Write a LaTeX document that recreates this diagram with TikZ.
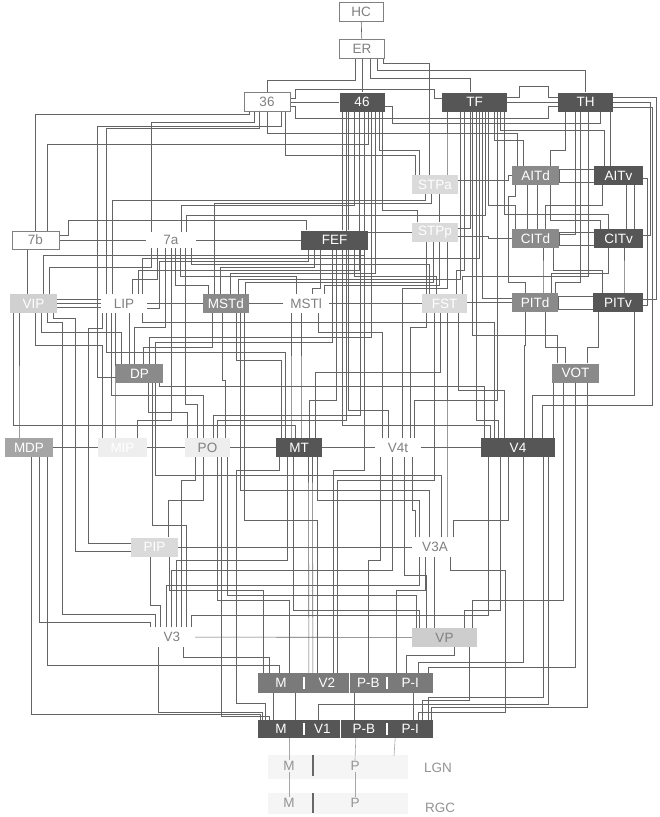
\documentclass[tikz,border=0pt]{standalone}
\usepackage{fontspec}
\setmainfont{Liberation Sans}
\usetikzlibrary{positioning,backgrounds}
\definecolor{areadark}{RGB}{86,86,86}
\definecolor{areamid}{RGB}{138,138,138}
\definecolor{arealight}{RGB}{218,218,218}
\definecolor{areapale}{RGB}{238,238,238}
\definecolor{smudge}{RGB}{245,245,245}
\definecolor{vipgray}{RGB}{208,208,208}
\definecolor{mdpgray}{RGB}{165,165,165}
\definecolor{vpgray}{RGB}{205,205,205}
\definecolor{v2gray}{RGB}{122,122,122}
\definecolor{labelgray}{RGB}{128,128,128}
\definecolor{wiregray}{RGB}{100,100,100}

\begin{document}
\begin{tikzpicture}[x=1pt, y=-1pt,
    area/.style={inner sep=0pt, minimum height=19pt, font=\fontsize{13.5}{15}\selectfont},
    darkbox/.style={area, fill=areadark, text=white},
    midbox/.style={area, fill=areamid, text=white},
    lightbox/.style={area, fill=arealight, text=white},
    openbox/.style={area, draw=labelgray, line width=0.6pt, fill=white, text=labelgray},
    plainbox/.style={area, fill=white, text=labelgray},
    cellbox/.style={area, minimum height=20pt, text=white},
    tag/.style={inner sep=1pt, text=labelgray!85, font=\fontsize{13.5}{15}\selectfont},
    wire/.style={draw=wiregray, line width=0.6pt},
    faint/.style={draw=labelgray!70, line width=0.6pt},
    divider/.style={draw=white, line width=1.6pt},
    bar/.style={draw=areadark!90, line width=1.8pt}]
    \useasboundingbox (0,0) rectangle (660,817);

    % Top of the hierarchy
    \node[openbox, minimum width=44pt] (hc) at (361,12) {HC};
    \node[openbox, minimum width=45pt] (er) at (362,48.5) {ER};
    \node[openbox, minimum width=46pt] (a36) at (267,102) {36};
    \node[darkbox, minimum width=45pt] (a46) at (362,102) {46};
    \node[darkbox, minimum width=65pt] (tf) at (474.5,102) {TF};
    \node[darkbox, minimum width=55pt] (th) at (585.5,102) {TH};

    % Temporal and frontal areas
    \node[lightbox, minimum width=46pt] (stpa) at (435,184.5) {STPa};
    \node[midbox, minimum width=47pt] (aitd) at (535.5,175.5) {AITd};
    \node[darkbox, minimum width=49pt] (aitv) at (618.5,175.5) {AITv};
    \node[openbox, minimum width=47pt, minimum height=18pt] (a7b) at (35.5,240) {7b};
    \node[plainbox, minimum width=50pt, minimum height=16pt] (a7a) at (171,240) {7a};
    \node[darkbox, minimum width=67pt] (fef) at (334.5,240) {FEF};
    \node[lightbox, minimum width=46pt] (stpp) at (435,232) {STPp};
    \node[midbox, minimum width=47pt] (citd) at (535.5,238.5) {CITd};
    \node[darkbox, minimum width=49pt] (citv) at (618.5,238.5) {CITv};

    % Parietal row
    \node[lightbox, fill=vipgray, minimum width=47pt] (vip) at (33.5,303.5) {VIP};
    \node[plainbox, minimum width=46pt] (lip) at (124,303.5) {LIP};
    \node[midbox, minimum width=46pt] (mstd) at (226,303.5) {MSTd};
    \node[plainbox, minimum width=46pt] (mstl) at (306,303.5) {MSTl};
    \node[lightbox, minimum width=45pt] (fst) at (444.5,303.5) {FST};
    \node[midbox, minimum width=46pt] (pitd) at (535,302.5) {PITd};
    \node[darkbox, minimum width=50pt] (pitv) at (618,302.5) {PITv};
    \node[midbox, minimum width=47pt] (dp) at (139.5,373.5) {DP};
    \node[midbox, minimum width=47pt] (vot) at (575.5,373) {VOT};

    % Middle row
    \node[midbox, fill=mdpgray, minimum width=48pt] (mdp) at (29,447.5) {MDP};
    \node[lightbox, fill=areapale, minimum width=49pt] (mip) at (122.5,447.5) {MIP};
    \node[lightbox, fill=areapale, text=labelgray, minimum width=45pt] (po) at (207.5,447.5) {PO};
    \node[darkbox, minimum width=46pt] (mt) at (299,447.5) {MT};
    \node[plainbox, minimum width=46pt] (v4t) at (398,447.5) {V4t};
    \node[darkbox, minimum width=74pt] (v4) at (518,447.5) {V4};

    % Lower areas
    \node[lightbox, minimum width=47pt] (pip) at (154.5,547) {PIP};
    \node[plainbox, minimum width=46pt] (v3a) at (435,547) {V3A};
    \node[plainbox, minimum width=46pt] (v3) at (172,637) {V3};
    \node[lightbox, fill=vpgray, text=labelgray, minimum width=65pt] (vp) at (444.5,637.5) {VP};

    % V2 and V1 compartments
    \node[cellbox, fill=v2gray, minimum width=46pt] (v2m) at (281,683) {M};
    \node[cellbox, fill=v2gray, minimum width=45pt, right=0pt of v2m] (v2c) {V2};
    \node[cellbox, fill=v2gray, minimum width=37pt, right=0pt of v2c] (v2pb) {P-B};
    \node[cellbox, fill=v2gray, minimum width=46pt, right=0pt of v2pb] (v2pi) {P-I};
    \node[cellbox, fill=areadark, minimum height=18pt, minimum width=46pt] (v1m) at (281,729) {M};
    \node[cellbox, fill=areadark, minimum height=18pt, minimum width=36pt, right=0pt of v1m] (v1c) {V1};
    \node[cellbox, fill=areadark, minimum height=18pt, minimum width=46pt, right=0pt of v1c] (v1pb) {P-B};
    \node[cellbox, fill=areadark, minimum height=18pt, minimum width=46pt, right=0pt of v1pb] (v1pi) {P-I};
    \draw[divider] ([yshift=-4]v2m.north east) -- ([yshift=4]v2m.south east);
    \draw[divider] ([yshift=-4]v2c.north east) -- ([yshift=4]v2c.south east);
    \draw[divider] ([yshift=-4]v2pb.north east) -- ([yshift=4]v2pb.south east);
    \draw[divider] ([yshift=-3]v1m.north east) -- ([yshift=3]v1m.south east);
    \draw[divider] ([yshift=-3]v1c.north east) -- ([yshift=3]v1c.south east);
    \draw[divider] ([yshift=-3]v1pb.north east) -- ([yshift=3]v1pb.south east);

    % LGN and RGC
    \fill[smudge] (268,755) rectangle (408,779);
    \fill[smudge] (268,793) rectangle (408,814);
    \node[tag] (lgnm) at (289,766) {M};
    \node[tag] (lgnp) at (355,766) {P};
    \node[tag] (lgn) at (438,768) {LGN};
    \node[tag] (rgcm) at (289,803) {M};
    \node[tag] (rgcp) at (355,803) {P};
    \node[tag] (rgc) at (440,808) {RGC};
    \coordinate (piend) at (394,756);
    \draw[bar] (313,755) -- (313,776);
    \draw[bar] (313,793) -- (313,813);
    \draw[faint] ([xshift=8]v1m.south) -- (lgnm.north);
    \draw[faint] (lgnm) -- (rgcm);
    \draw[faint] ([xshift=-8]v1pb.south) -- (lgnp.north);
    \draw[faint] (lgnp) -- (rgcp);
    \draw[faint] ([xshift=-15]v1pi.south) -- (piend);

    \begin{scope}[on background layer]
    % HC, ER and the top row
    \draw[wire] (hc) -- (er);
    \draw[wire] (er) -- (a46);
    \draw[wire] (a36.north) -- ++(0,-12) -| ([xshift=-6.5]er.south);
    \draw[wire] ([xshift=-4]tf.north) -- ++(0,-14) -| ([xshift=8]er.south);
    \draw[wire] (th.north) -- ++(0,-22) -| ([xshift=15]er.south);
    \draw[wire] ([xshift=-6]stpa.north) -- ++(0,-112) -| ([xshift=21]er.south);
    \draw[wire] (a36) -- (a46);
    \draw[wire] ([yshift=4]a36.east) -- ++(5,0) |- (434,89) |- ([yshift=4]tf.west);
    \draw[wire] ([yshift=-4]a36.east) -- ++(5,0) |- (548,118) |- ([yshift=-4]th.west);
    \draw[wire] ([yshift=-4]a46.east) -- ++(8,0) |- (600,123) -- ([xshift=14.5]th.south);
    \draw[wire] (tf) -- (th);
    \draw[wire] ([yshift=5]tf.east) -- ++(12,0) |- (548,86) |- ([yshift=5]th.west);

    % into 36
    \draw[wire] (a7b.north) -- ++(0,-116) -| ([xshift=-18]a36.south);
    \draw[wire] ([xshift=-20]a7a.north) -- ++(0,-110) -| ([xshift=-13]a36.south);
    \draw[wire] ([xshift=-18]lip.north) -- ++(0,-166) -| ([xshift=-8]a36.south);
    \draw[wire] ([xshift=-18]aitd.north) -- ++(0,-33) -| (a36.south);
    \draw[wire] ([yshift=-4]dp.west) -- (97,377.5) |- ([xshift=14,yshift=-14]a36.south) -- ([xshift=14]a36.south);
    \draw[wire] ([xshift=-20]stpa.north) -- ++(0,-20) -| ([xshift=18]a36.south);

    % into 46
    \draw[wire] ([xshift=8]fef.north) -- ++(0,-60) -| ([xshift=-19.5]a46.south);
    \draw[wire] ([xshift=14]fef.north) -- ++(0,-60) -| ([xshift=-13.5]a46.south);
    \draw[wire] ([xshift=10]a7a.north) -- ++(0,-27) -| ([xshift=-8]a46.south);
    \draw[wire] ([xshift=14]lip.north) -- ++(0,-24) -| ([xshift=-3]a46.south);
    \draw[wire] ([xshift=10]vip.north) -- ++(0,-39) -| ([xshift=2]a46.south);
    \draw[wire] ([xshift=10]dp.north) -- ++(0,-27) -| ([xshift=9]a46.south);
    \draw[wire] ([xshift=4]mstd.north) -- ++(0,-21) -| ([xshift=13]a46.south);
    \draw[wire] ([xshift=-16]stpa.north) -- ++(0,-25) -| ([xshift=17]a46.south);
    \draw[wire] ([xshift=-18]stpp.north) -- ++(0,-12) -| ([xshift=20]a46.south);
    \draw[wire] ([xshift=10]po.north) -- ++(0,-18) -| ([xshift=-16]a46.south);
    \draw[wire] ([xshift=12]a7b.north) -- ++(0,-86) -| ([xshift=6.5]a46.south);

    % into TF
    \draw[wire] ([xshift=12]stpa.north) -- ++(0,-20) -| ([xshift=-27.5]tf.south);
    \draw[wire] ([yshift=4]stpp.east) -| ([xshift=-4]tf.south);
    \draw[wire] ([xshift=-12]aitd.north) -- ++(0,-26) -| ([xshift=20]tf.south);
    \draw[wire] ([xshift=-14]aitv.north) -- ++(0,-36) -| ([xshift=26]tf.south);
    \draw[wire] ([xshift=-20]citd.north) -- ++(0,-24) -| ([xshift=14]tf.south);
    \draw[wire] ([xshift=-10]citv.north) -- ++(0,-15) -| ([xshift=30]tf.south);
    \draw[wire] ([yshift=4]pitd.west) -| ([xshift=8]tf.south);
    \draw[wire] ([xshift=-20]v4.north) -- ++(0,-18) -| ([xshift=2]tf.south);
    \draw[wire] ([xshift=-18]vot.north) -- ++(0,-28) -| ([xshift=-2]tf.south);
    \draw[wire] ([xshift=12]fst.north) -- ++(0,-24) -| ([xshift=-10]tf.south);
    \draw[wire] ([xshift=12]mstd.north) -- ++(0,-15) -| ([xshift=-14]tf.south);
    \draw[wire] ([xshift=15]a7a.north) -- ++(0,-17) -| ([xshift=11]tf.south);
    \draw[wire] ([xshift=18]lip.north) -- ++(0,-36) -| ([xshift=5]tf.south);
    \draw[wire] ([xshift=16]v4t.north) -- ++(0,-38) -| ([xshift=23]tf.south);

    % into TH
    \draw[wire] ([xshift=15]aitd.north) -- ++(0,-16) -| ([xshift=-20]th.south);
    \draw[wire] ([xshift=-8]aitv.north) -- ++(0,-26) -| ([xshift=25]th.south);
    \draw[wire] ([yshift=4]citd.east) -| ([xshift=-10.5]th.south);
    \draw[wire] ([yshift=3]citv.east) -- ++(7,0) |- (th.east);
    \draw[wire] ([yshift=3]pitv.east) -- ++(13,0) |- ([yshift=5]th.east);
    \draw[wire] ([xshift=20]pitd.north) -- ++(0,-11) -| ([xshift=-5]th.south);
    \draw[wire] ([xshift=24]v4.north) |- (652,405) |- ([yshift=-5]th.east);
    \draw[wire] ([xshift=18]fst.north) -- ++(0,-18) -| ([xshift=3]th.south);
    \draw[wire] ([yshift=-3]pitv.east) -- ++(4,0) |- ([yshift=-3]aitv.east);

    % inferotemporal links
    \draw[wire] ([xshift=-8]citd.north) -- ([xshift=-8]aitd.south);
    \draw[wire] ([xshift=2]citd.north) -- ([xshift=2]aitd.south);
    \draw[wire] ([xshift=8]citv.north) -- ([xshift=8]aitv.south);
    \draw[wire] ([xshift=16]citv.north) -- ([xshift=16]aitv.south);
    \draw[wire] ([xshift=10]citd.north) -- ++(0,-24) -| ([xshift=-16]aitv.south);
    \draw[wire] ([xshift=-18]citv.north) -- ++(0,-9) -| ([xshift=15]aitd.south);
    \draw[wire] ([xshift=-10]pitd.north) |- (508,282) |- ([xshift=-20,yshift=-11]aitd.south) -- ([xshift=-20]aitd.south);
    \draw[wire] ([xshift=8]pitd.north) -- ++(0,-20) -| ([xshift=7.5]citd.south);
    \draw[wire] ([xshift=6]pitv.north) -- ++(0,-20) -| ([xshift=5.5]citv.south);
    \draw[wire] ([xshift=16]pitd.north) -- ++(0,-20) -| ([xshift=-10]citv.south);
    \draw[wire] ([xshift=-16]pitv.north) -- ++(0,-23) -| ([xshift=18]citd.south);
    \draw[wire] ([yshift=4]stpa.east) -- ++(50,0) |- (aitd.west);
    \draw[wire] ([yshift=-4]stpp.east) -- ++(30,0) |- (citd.west);
    \draw[wire] ([xshift=4]stpp.north) -- ([xshift=4]stpa.south);
    \draw[wire] ([yshift=-3]aitd.north east) rectangle ([yshift=3]aitv.south west);
    \draw[wire] ([yshift=-3]citd.north east) rectangle ([yshift=3]citv.south west);
    \draw[wire] ([yshift=-3]pitd.north east) rectangle ([yshift=3]pitv.south west);

    % into STPa
    \draw[wire] ([xshift=-12]lip.north) -- ++(0,-94) -| ([xshift=-10]stpa.south);
    \draw[wire] ([xshift=-12]mstd.north) -- ++(0,-91) -| ([xshift=-4]stpa.south);

    % 7b, 7a and FEF
    \draw[wire] (a7b) -- (a7a);
    \draw[wire] (a7a) -- (fef);
    \draw[wire] ([yshift=8]fef.east) -- (stpp.west);
    \draw[wire] ([yshift=5]a7b.east) -- ++(9,0) |- ([xshift=-28,yshift=10]fef.north) -- ([xshift=-28]fef.north);
    \draw[wire] ([xshift=-6]vip.north) -- ++(0,-20) -| ([xshift=-8]a7b.south);

    % into 7a
    \draw[wire] ([xshift=8]lip.north) -- ++(0,-15) -| ([xshift=-14]a7a.south);
    \draw[wire] ([xshift=16]vip.north) -- ++(0,-27) -| ([xshift=-20]a7a.south);
    \draw[wire] ([xshift=-5]dp.north) -- ++(0,-37) -| ([xshift=-6]a7a.south);
    \draw[wire] ([xshift=-18]mstd.north) -- ++(0,-9) -| ([xshift=4]a7a.south);
    \draw[wire] ([xshift=-10]mstl.north) -- ++(0,-18) -| ([xshift=9]a7a.south);
    \draw[wire] ([xshift=-10]po.north) -- ++(0,-34) -| ([xshift=14]a7a.south);
    \draw[wire] ([xshift=15]mip.north) -- ++(0,-18) -| (a7a.south);
    \draw[wire] ([xshift=-15]fst.north) -- ++(0,-30) -| ([xshift=20]a7a.south);

    % into FEF
    \draw[wire] ([yshift=-5]lip.east) -- ++(12,0) |- ([xshift=-26.5,yshift=-11.5]fef.south) -- ([xshift=-26.5]fef.south);
    \draw[wire] ([xshift=-6]mstd.north) -- ++(0,-27) -| ([xshift=-20]fef.south);
    \draw[wire] ([xshift=6]mstl.north) -- ++(0,-6) -| ([xshift=-14]fef.south);
    \draw[wire] ([xshift=-8]fst.north) -- ++(0,-18) -| ([xshift=20]fef.south);
    \draw[wire] ([xshift=10]mt.north) -- ++(0,-38) -| ([xshift=2]fef.south);
    \draw[wire] ([xshift=-28]v4.north) -- ++(0,-13) -| ([xshift=8]fef.south);
    \draw[wire] ([xshift=-10]v4t.north) -- ++(0,-28) -| ([xshift=14]fef.south);
    \draw[wire] ([xshift=16]dp.north) -- ++(0,-22) -| ([xshift=-2]fef.south);
    \draw[wire] ([xshift=6]po.north) -- ++(0,-23) -| ([xshift=26]fef.south);
    \draw[wire] ([xshift=6]v2c.north) -- ++(0,-203) -| ([xshift=30]fef.south);

    % into STPp
    \draw[wire] ([xshift=-18]fst.north) -- ++(0,-20) -| ([xshift=-8.5]stpp.south);
    \draw[wire] ([xshift=19]mstd.north) -- ++(0,-12) -| ([xshift=-2]stpp.south);
    \draw[wire] ([xshift=18]mstl.north) -- ++(0,-9) -| ([xshift=4]stpp.south);
    \draw[wire] ([xshift=4]v4t.north) -- ++(0,-150) -| ([xshift=12]stpp.south);

    % parietal row
    \draw[wire] (vip) -- (lip);
    \draw[wire] ([yshift=4]vip.east) -- ([yshift=4]lip.west);
    \draw[wire] ([yshift=-4]vip.east) -- ([yshift=-4]lip.west);
    \draw[wire] (lip) -- (mstd);
    \draw[wire] (mstd) -- (mstl);
    \draw[wire] (mstl) -- (fst);
    \draw[wire] ([yshift=1]fst.east) -- (pitd.west);

    % into MSTd and MSTl
    \draw[wire] ([xshift=4]dp.north) -- ++(0,-17) -| ([xshift=-14]mstd.south);
    \draw[wire] ([xshift=18]po.north) -- ++(0,-58) -| ([xshift=-4]mstd.south);
    \draw[wire] ([xshift=-18]mt.north) -- ++(0,-78) -| ([xshift=10]mstd.south);
    \draw[wire] ([xshift=-10]v2c.north) -- ++(0,-153) -| ([xshift=18]mstd.south);
    \draw[wire] ([xshift=-6]v3a.north) -- ++(0,-47.5) -| ([xshift=14]mstd.south);
    \draw[wire] ([xshift=-8]mt.north) -- ++(0,-40) -| ([xshift=-15]mstl.south);
    \draw[wire] ([xshift=2]mt.north) -- ++(0,-40) -| ([xshift=-5]mstl.south);
    \draw[wire] ([xshift=-16]v4t.north) -- ++(0,-106) -| ([xshift=12]mstl.south);

    % into FST
    \draw[wire] ([xshift=16]mt.north) -- ++(0,-66) -| ([xshift=-4]fst.south);
    \draw[wire] ([xshift=12]v4t.north) -- ++(0,-111) -| ([xshift=-18]fst.south);
    \draw[wire] ([xshift=-14]v4.north) -- ++(0,-48) -| ([xshift=14]fst.south);
    \draw[wire] ([xshift=10]v2c.north) -- ++(0,-193) -| ([xshift=-10]fst.south);
    \draw[wire] ([xshift=12]v3a.north) -- ++(0,-50) -| ([xshift=2.5]fst.south);

    % into LIP and VIP
    \draw[wire] ([xshift=-10]dp.north) -- ++(0,-20) -| ([xshift=5.5]lip.south);
    \draw[wire] ([xshift=-7.5]mip.north) -- ++(0,-20) -| ([xshift=-9]lip.south);
    \draw[wire] ([xshift=-14]mt.north) -- ++(0,-86) -| ([xshift=-18]lip.south);
    \draw[wire] ([xshift=-4]po.north) -- ++(0,-43) -| ([xshift=-13]lip.south);
    \draw[wire] ([xshift=-24]v4.north) -- ++(0,-116) -| ([xshift=18]lip.south);
    \draw[wire] ([yshift=4]pip.west) -| (88,328) -| ([xshift=-22]lip.south);
    \draw[wire] ([xshift=-10]mdp.north) -- ++(0,-20) -| ([xshift=-14.5]vip.south);
    \draw[wire] ([xshift=-4]mt.north) -- ++(0,-13) -| ([xshift=-20]vip.south);
    \draw[wire] ([xshift=-18]dp.north) -- ++(0,-32) -| ([xshift=8]vip.south);
    \draw[wire] ([xshift=-20]mip.north) -- ++(0,-93) -| ([xshift=2]vip.south);
    \draw[wire] ([xshift=-17]v3.north) -- ++(0,-13.5) -| (62,322) -| ([xshift=14]vip.south);
    \draw[wire] ([yshift=-4]pip.west) -| (75,318) -| ([xshift=20]vip.south);

    % into DP
    \draw[wire] ([xshift=-20]po.north) -- ++(0,-26) -| ([xshift=9]dp.south);
    \draw[wire] ([xshift=-34]v4.north) -- ++(0,-52) -| ([xshift=20]dp.south);
    \draw[wire] ([xshift=14]v3.north) -- ++(0,-102.5) -| ([xshift=13]dp.south);
    \draw[wire] ([xshift=6]v3a.north) -- ++(0,-62.5) -| ([xshift=16]dp.south);

    % VOT, PITd and PITv from below
    \draw[wire] ([xshift=-10]vot.north) -- ++(0,-16.5) -| ([xshift=10]pitd.south);
    \draw[wire] ([xshift=12]vot.north) -- ++(0,-16.5) -| ([xshift=-20]pitv.south);
    \draw[wire] ([xshift=35]v4.north) -- ([xshift=-22.5]vot.south);
    \draw[wire] ([xshift=6]v4.north) -- ++(0,-93) -| ([xshift=-10]pitd.south);
    \draw[wire] ([xshift=14]v4.north) -- ++(0,-43) -| ([xshift=16]pitv.south);

    % middle row
    \draw[wire] (mdp) -- (mip);
    \draw[wire] (mip) -- (po);
    \draw[wire] (po) -- (mt);
    \draw[wire] (mt) -- (v4t);
    \draw[wire] (v4t) -- (v4);

    % into V4
    \draw[wire] ([xshift=19]v3.north) -- ++(0,-12.5) -| ([xshift=-30]v4.south);
    \draw[wire] ([xshift=20]vp.north) -- ++(0,-18) -| ([xshift=-18]v4.south);
    \draw[wire] ([xshift=18]v3a.north) -- ++(0,-17.5) -| ([xshift=-10]v4.south);
    \draw[wire] ([xshift=8]v2pi.north) -- ++(0,-11) -| ([xshift=5]v4.south);
    \draw[wire] ([xshift=-4]v1c.north) -- ++(0,-16) -| ([xshift=30]v4.south);
    \draw[wire] ([xshift=18]v1pi.north) -- ++(0,-23) -| ([xshift=25]v4.south);

    % into VOT
    \draw[wire] ([xshift=28]vp.north) -- ++(0,-28) -| ([xshift=-12]vot.south);
    \draw[wire] ([xshift=18]v2pi.north) -- ++(0,-6) -| (vot.south);
    \draw[wire] ([xshift=21]v1pi.north) -- ++(0,-13) -| ([xshift=12]vot.south);

    % into MT
    \draw[wire] ([xshift=-18]v2c.north) -- ([xshift=9.5]mt.south);
    \draw[wire] ([xshift=-14]v2c.north) -- ([xshift=13.5]mt.south);
    \draw[wire] ([xshift=4]v3.north) -- ++(0,-67.5) -| ([xshift=-12]mt.south);
    \draw[wire] ([xshift=-16]v3a.north) -- ++(0,-37.5) -| ([xshift=18]mt.south);
    \draw[wire] ([xshift=-25]vp.north) -- ++(0,-18) -| ([xshift=-6]mt.south);
    \draw[wire] ([xshift=-16]v1m.north) -- ++(0,-17) -| (236,470) -| ([xshift=-20]mt.south);

    % into V4t
    \draw[wire] (v2pb.north) -- ++(0,-113) -| ([xshift=-18]v4t.south);
    \draw[wire] ([xshift=-20]v3a.north) -- ++(0,-27.5) -| ([xshift=14]v4t.south);
    \draw[wire] ([xshift=-1]v3.north) -- ++(0,-57.5) -| ([xshift=-6]v4t.south);
    \draw[wire] ([xshift=-18]vp.north) -- ++(0,-53) -| ([xshift=6]v4t.south);

    % into PO
    \draw[wire] ([xshift=8]v2m.north) -- ++(0,-73) -| ([xshift=10]po.south);
    \draw[wire] ([xshift=9]v3.north) -- ++(0,-147.5) -| ([xshift=-12]po.south);
    \draw[wire] ([xshift=14]pip.north) -- ++(0,-37.5) -| ([xshift=-4]po.south);
    \draw[wire] ([xshift=-28]vp.north) -- ++(0,-33) -| ([xshift=20]po.south);
    \draw[wire] ([xshift=-12]v1m.north) -- ++(0,-4) -| ([xshift=14]po.south);

    % PIP and V3A
    \draw[wire] (pip) -- (v3a);
    \draw[wire] ([xshift=-12]v3.north) -- ++(0,-22.5) -| ([xshift=-4]pip.south);
    \draw[wire] ([xshift=-18]v2m.north) -- ++(0,-83) -| ([xshift=15]pip.south);
    \draw[wire] ([xshift=-6]v3.north) -- ++(0,-42.5) -| ([xshift=-16]v3a.south);
    \draw[wire] ([xshift=-10]vp.north) -- ++(0,-30) -| ([xshift=-0.5]v3a.south);
    \draw[wire] ([xshift=-14]v2pi.north) -- ++(0,-83) -| ([xshift=-10]v3a.south);
    \draw[wire] ([xshift=8]v1pi.north) -- ++(0,-8) -| (505,570) -| ([xshift=15]v3a.south);

    % V3, VP and MDP
    \draw[wire] (v3) -- (vp);
    \draw[wire] ([xshift=-12]v2m.north) -- ++(0,-16) -| ([xshift=11]v3.south);
    \draw[wire] ([xshift=-19]v1m.north) -- ++(0,-8) -| ([xshift=-14]v3.south);
    \draw[wire] ([xshift=-22]v3.north) -- ++(0,-5.5) -| ([xshift=10]mdp.south);
    \draw[wire] ([xshift=-2]v2m.north) -- ++(0,-8) -| ([xshift=18]mdp.south);
    \draw[wire] ([xshift=-21]v1m.north) -- ++(0,-6) -| ([xshift=2]mdp.south);
    \draw[wire] ([xshift=-4]v2pi.north) -- ++(0,-18) -| ([xshift=10]vp.south);
    \draw[wire] ([xshift=12]v1pi.north) -- ++(0,-20) -| ([xshift=25]vp.south);

    % V1 to V2
    \draw[wire] ([xshift=-8]v1m.north) -- ([xshift=-8]v2m.south);
    \draw[wire] ([xshift=14]v1m.north) -- ([xshift=14]v2m.south);
    \draw[wire] ([xshift=-10]v1pb.north) -- ([xshift=-14.5]v2pb.south);
    \draw[wire] ([xshift=3]v1pi.north) -- ([xshift=3]v2pi.south);
    \end{scope}
\end{tikzpicture}
\end{document}
